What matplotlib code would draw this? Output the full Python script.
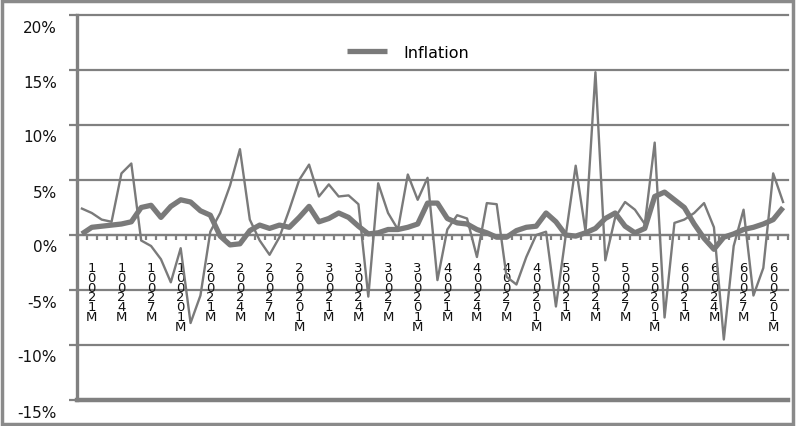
import numpy as np
import matplotlib.pyplot as plt
from matplotlib.transforms import ScaledTranslation, blended_transform_factory
from matplotlib.patches import Rectangle

# monthly values in percent (72 months)
inflation_monthly = [2.4, 2.0, 1.4, 1.2, 5.6, 6.5, -0.5, -1.0, -2.2, -4.3, -1.2, -8.0,
                     -5.5, 0.3, 2.0, 4.5, 7.8, 1.4, -0.5, -1.8, -0.2, 2.3, 5.0, 6.4,
                     3.5, 4.6, 3.5, 3.6, 2.8, -5.6, 4.7, 2.0, 0.5, 5.5, 3.2, 5.2,
                     -4.1, 0.5, 1.8, 1.5, -2.0, 2.9, 2.8, -3.8, -4.5, -2.0, 0.0, 0.3,
                     -6.5, 0.0, 6.3, 0.3, 14.8, -2.3, 1.6, 3.0, 2.3, 1.0, 8.4, -7.5,
                     1.1, 1.4, 2.0, 2.9, 0.7, -9.5, -1.0, 2.3, -5.5, -3.0, 5.6, 3.0]
inflation = [0.1, 0.7, 0.8, 0.9, 1.0, 1.2, 2.5, 2.7, 1.6, 2.6, 3.2, 3.0,
             2.2, 1.8, -0.1, -0.9, -0.8, 0.4, 0.9, 0.6, 0.9, 0.7, 1.6, 2.6,
             1.2, 1.5, 2.0, 1.6, 0.8, 0.1, 0.2, 0.5, 0.5, 0.7, 1.0, 2.9,
             2.9, 1.5, 1.1, 1.0, 0.5, 0.2, -0.2, -0.2, 0.4, 0.7, 0.8, 2.0,
             1.2, 0.0, -0.1, 0.2, 0.6, 1.5, 2.0, 0.8, 0.2, 0.6, 3.5, 3.9,
             3.2, 2.5, 1.0, -0.3, -1.3, -0.2, 0.1, 0.5, 0.7, 1.0, 1.4, 2.5]

# category labels as shown (stacked characters), every third month
tick_pos = list(range(1, 72, 3))
tick_labels = ["10021M", "10024M", "10027M", "100201M",
               "20021M", "20024M", "20027M", "200201M",
               "30021M", "30024M", "30027M", "300201M",
               "40021M", "40024M", "40027M", "400201M",
               "50021M", "50024M", "50027M", "500201M",
               "60021M", "60024M", "60027M", "600201M"]
y_ticks = [20, 15, 10, 5, 0, -5, -10, -15]

gray = '#808080'
fig = plt.figure(figsize=(7.96, 4.27), dpi=100)
ax = fig.add_axes([77/796, 1-401/427, (788-77)/796, (401-16)/427])

x = np.arange(len(inflation))
ax.set_xlim(-0.5, len(inflation)-0.5)
ax.set_ylim(-15, 20)

# gridlines
for v in y_ticks:
    lw = 3.2 if v == -15 else 1.6
    ax.axhline(v, color=gray, lw=lw, clip_on=False, zorder=1)

ax.plot(x, inflation_monthly, color='#7a7a7a', lw=1.7, zorder=4)
line, = ax.plot(x, inflation, color='#7a7a7a', lw=3.8, zorder=5,
                solid_capstyle='butt')

# axes
for s in ['top', 'right']:
    ax.spines[s].set_visible(False)
ax.spines['left'].set_color(gray)
ax.spines['left'].set_linewidth(2.4)
ax.spines['bottom'].set_position(('data', 0))
ax.spines['bottom'].set_color(gray)
ax.spines['bottom'].set_linewidth(1.6)

ax.set_yticks(y_ticks)
ax.set_yticklabels([])
ax.tick_params(axis='y', length=6, width=1.6, color=gray, direction='out')
ax.set_xticks(np.arange(-0.5, len(inflation), 1))
ax.set_xticklabels([])
ax.tick_params(axis='x', length=3.5, width=1.6, color=gray, direction='out')

# y labels (sit a little below their gridlines)
ytr = blended_transform_factory(ax.transAxes, ax.transData) + \
    ScaledTranslation(-20/100, -12/100, fig.dpi_scale_trans)
for v in y_ticks:
    ax.text(0, v, '%d%%' % v, transform=ytr, ha='right', va='center',
            fontsize=11, color='#111111')

# stacked category labels
xtr = ax.transData + ScaledTranslation(0, -26/100, fig.dpi_scale_trans)
for p, lab in zip(tick_pos, tick_labels):
    ax.text(p, 0, '\n'.join(lab), transform=xtr, ha='center', va='top',
            fontsize=9.5, linespacing=0.68, color='#111111', zorder=3)

leg = ax.legend([line], ['Inflation'], loc='center left', frameon=False,
                bbox_to_anchor=(347/796, 1-53/427), bbox_transform=fig.transFigure,
                borderpad=0, borderaxespad=0, handlelength=2.5, handletextpad=1.0,
                fontsize=11.5)

# outer chart border
fig.patches.append(Rectangle((0.003, 0.005), 0.993, 0.99, transform=fig.transFigure,
                             fill=False, ec='#8a8a8a', lw=2.5))

fig.savefig('out.png', dpi=100)
